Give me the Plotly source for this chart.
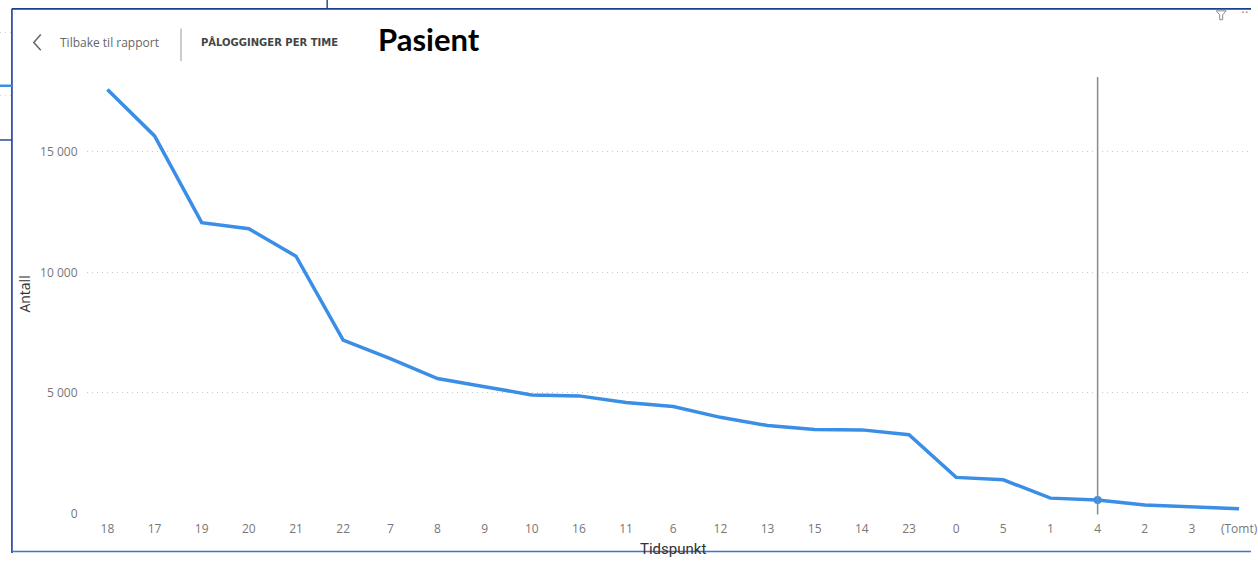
import plotly.graph_objects as go

# ---- data ----
tidspunkt = ["18", "17", "19", "20", "21", "22", "7", "8", "9", "10", "16", "11", "6",
             "12", "13", "15", "14", "23", "0", "5", "1", "4", "2", "3", "(Tomt)"]
antall = [17580, 15660, 12060, 11810, 10670, 7190, 6420, 5600, 5260, 4920, 4880, 4610,
          4440, 3990, 3650, 3490, 3470, 3270, 1500, 1400, 640, 560, 355, 285, 205]
y_ticks = [0, 5000, 10000, 15000]
y_tick_labels = ["0", "5 000", "10 000", "15 000"]
highlight = "4"

W, H = 1258, 561


def px(x):
    return x / W


def py(y):
    return 1 - y / H


LINE_BLUE = "#3a8ee6"
NAVY = "#1c3d94"

fig = go.Figure()
fig.add_trace(go.Scatter(
    x=tidspunkt, y=antall, mode="lines",
    line=dict(color=LINE_BLUE, width=3.5, shape="linear"),
    hoverinfo="skip", showlegend=False,
))
hi = tidspunkt.index(highlight)
fig.add_trace(go.Scatter(
    x=[tidspunkt[hi]], y=[antall[hi]], mode="markers",
    marker=dict(color=LINE_BLUE, size=8),
    hoverinfo="skip", showlegend=False,
))

shapes = []
shapes.append(dict(type="line", xref="x", yref="paper", x0=hi, x1=hi,
                   y0=py(78), y1=py(522), line=dict(color="#8a8a8a", width=1.5)))
shapes.append(dict(type="line", xref="paper", yref="paper", x0=px(12), x1=1,
                   y0=py(9), y1=py(9), line=dict(color=NAVY, width=1.6)))
shapes.append(dict(type="line", xref="paper", yref="paper", x0=px(12), x1=px(12),
                   y0=py(9), y1=0, line=dict(color=NAVY, width=1.6)))
shapes.append(dict(type="line", xref="paper", yref="paper", x0=px(12), x1=1,
                   y0=py(559.5), y1=py(559.5), line=dict(color="#4a72c4", width=1.6)))
shapes.append(dict(type="line", xref="paper", yref="paper", x0=px(329), x1=px(329),
                   y0=1, y1=py(9), line=dict(color=NAVY, width=1.4)))
shapes.append(dict(type="line", xref="paper", yref="paper", x0=0, x1=px(12),
                   y0=py(87), y1=py(87), line=dict(color=LINE_BLUE, width=2.5)))
shapes.append(dict(type="line", xref="paper", yref="paper", x0=0, x1=px(12),
                   y0=py(142), y1=py(142), line=dict(color=NAVY, width=1.4)))
for yy in (33, 97):
    shapes.append(dict(type="line", xref="paper", yref="paper", x0=0, x1=px(12),
                       y0=py(yy), y1=py(yy),
                       line=dict(color="#cfcfcf", width=1, dash="1px,4px")))
shapes.append(dict(type="path", xref="paper", yref="paper",
                   path=f"M {px(41)} {py(35)} L {px(34)} {py(43)} L {px(41)} {py(51)}",
                   line=dict(color="#666666", width=1.5)))
shapes.append(dict(type="line", xref="paper", yref="paper", x0=px(182), x1=px(182),
                   y0=py(29), y1=py(62), line=dict(color="#9a9a9a", width=1)))
shapes.append(dict(type="path", xref="paper", yref="paper",
                   path=(f"M {px(1223)} {py(11)} L {px(1233)} {py(11)} L {px(1229.5)} {py(15)} "
                         f"L {px(1229.5)} {py(20)} L {px(1226.5)} {py(20)} L {px(1226.5)} {py(15)} Z"),
                   line=dict(color="#8a8a8a", width=1)))

annotations = [
    dict(text="Tilbake til rapport", x=px(58), y=py(43), xref="paper", yref="paper",
         xanchor="left", yanchor="middle", showarrow=False,
         font=dict(family="Open Sans", size=12, color="#666666")),
    dict(text="PÅLOGGINGER PER TIME", x=px(200), y=py(43), xref="paper", yref="paper",
         xanchor="left", yanchor="middle", showarrow=False,
         font=dict(family="DejaVu Sans", size=10, color="#444444", weight="bold")),
    dict(text="<b>Pasient</b>", x=px(378), y=py(40), xref="paper", yref="paper",
         xanchor="left", yanchor="middle", showarrow=False,
         font=dict(family="Lato", size=31, color="#000000")),
    dict(text="··", x=1, y=py(13), xref="paper", yref="paper",
         xanchor="right", yanchor="middle", showarrow=False,
         font=dict(family="DejaVu Sans", size=12, color="#777777")),
    dict(text="Tidspunkt", x=px(677), y=py(546), xref="paper", yref="paper",
         xanchor="center", yanchor="top", showarrow=False,
         font=dict(family="Roboto", size=15, color="#333333")),
    dict(text="Antall", x=px(25), y=py(298), xref="paper", yref="paper",
         xanchor="center", yanchor="middle", showarrow=False, textangle=-90,
         font=dict(family="Open Sans", size=14, color="#333333")),
]

step = (1246 - 108) / 24
x_left = 87
x_range = [(x_left - 108) / step, (W - 108) / step]
ppu = (521 - 154) / 15000
y_top = 78
y_range = [0, (521 - y_top) / ppu]

fig.update_layout(
    width=W, height=H,
    margin=dict(l=0, r=0, t=0, b=0),
    paper_bgcolor="white", plot_bgcolor="white",
    showlegend=False,
    hovermode=False,
    shapes=shapes,
    annotations=annotations,
    xaxis=dict(
        type="category", categoryorder="array", categoryarray=tidspunkt,
        domain=[px(x_left), 1], range=x_range,
        showgrid=False, zeroline=False, showline=False, ticks="",
        tickfont=dict(family="Open Sans", size=12, color="#777777"),
        ticklabelstandoff=6,
    ),
    yaxis=dict(
        domain=[py(521), py(y_top)], range=y_range,
        tickvals=y_ticks, ticktext=y_tick_labels,
        showgrid=True, gridcolor="#c8c8c8", griddash="1px,4px", gridwidth=1,
        zeroline=False, showline=False, ticks="",
        tickfont=dict(family="Open Sans", size=12, color="#777777"),
        ticklabelstandoff=8,
    ),
)

fig.write_html(
    "out.html",
    config={"displayModeBar": False},
    post_script=(
        "var st=document.createElement('style');"
        "st.textContent='html,body{margin:0;padding:0;overflow:hidden;width:1258px;height:561px;}"
        ".plotly-graph-div,.svg-container,.main-svg{overflow:hidden !important;}';"
        "document.head.appendChild(st);"
        "var gd=document.getElementById('{plot_id}');"
        "gd.style.overflow='hidden';"
    ),
)
